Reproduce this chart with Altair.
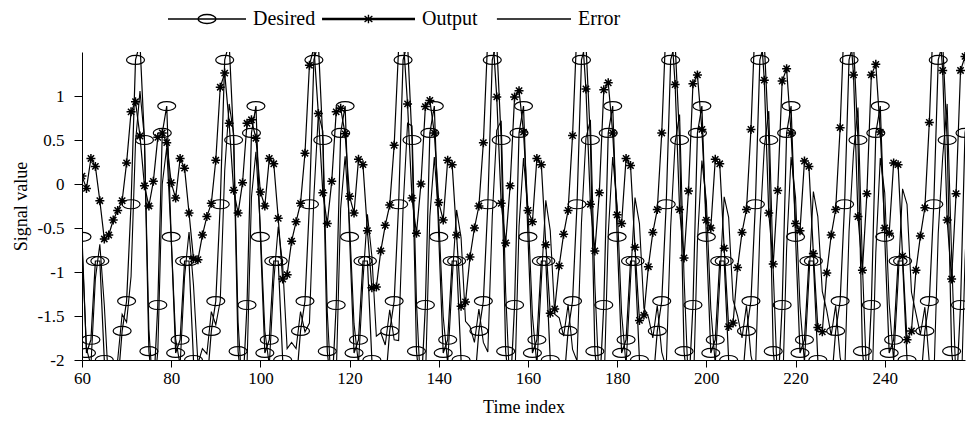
import altair as alt
import pandas as pd

# Sample index (one sample beyond each edge so the traces run off the axes)
TIME = list(range(59, 260))

# Reference (desired) signal, one row per 20-sample cycle
DESIRED = (
    [0.886]
    + [-0.6, -1.92, -1.77, -0.875, -0.875, -2.0, -2.9, -2.45, -2.3, -1.67, -1.33, -0.23, 1.41, 1.6, 0.5, -1.9, -2.4, -1.375, 0.58, 0.886]
    + [-0.6, -1.92, -1.77, -0.875, -0.875, -2.0, -2.9, -2.45, -2.3, -1.67, -1.33, -0.23, 1.41, 1.6, 0.5, -1.9, -2.4, -1.375, 0.58, 0.886]
    + [-0.6, -1.92, -1.77, -0.875, -0.875, -2.0, -2.9, -2.45, -2.3, -1.67, -1.33, -0.23, 1.41, 1.6, 0.5, -1.9, -2.4, -1.375, 0.58, 0.886]
    + [-0.6, -1.92, -1.77, -0.875, -0.875, -2.0, -2.9, -2.45, -2.3, -1.67, -1.33, -0.23, 1.41, 1.6, 0.5, -1.9, -2.4, -1.375, 0.58, 0.886]
    + [-0.6, -1.92, -1.77, -0.875, -0.875, -2.0, -2.9, -2.45, -2.3, -1.67, -1.33, -0.23, 1.41, 1.6, 0.5, -1.9, -2.4, -1.375, 0.58, 0.886]
    + [-0.6, -1.92, -1.77, -0.875, -0.875, -2.0, -2.9, -2.45, -2.3, -1.67, -1.33, -0.23, 1.41, 1.6, 0.5, -1.9, -2.4, -1.375, 0.58, 0.886]
    + [-0.6, -1.92, -1.77, -0.875, -0.875, -2.0, -2.9, -2.45, -2.3, -1.67, -1.33, -0.23, 1.41, 1.6, 0.5, -1.9, -2.4, -1.375, 0.58, 0.886]
    + [-0.6, -1.92, -1.77, -0.875, -0.875, -2.0, -2.9, -2.45, -2.3, -1.67, -1.33, -0.23, 1.41, 1.6, 0.5, -1.9, -2.4, -1.375, 0.58, 0.886]
    + [-0.6, -1.92, -1.77, -0.875, -0.875, -2.0, -2.9, -2.45, -2.3, -1.67, -1.33, -0.23, 1.41, 1.6, 0.5, -1.9, -2.4, -1.375, 0.58, 0.886]
    + [-0.6, -1.92, -1.77, -0.875, -0.875, -2.0, -2.9, -2.45, -2.3, -1.67, -1.33, -0.23, 1.41, 1.6, 0.5, -1.9, -2.4, -1.375, 0.58, 0.886]
)

# Network output
OUTPUT = (
    [0.45]
    + [0.09, -0.05, 0.29, 0.20, -0.19, -0.625, -0.58, -0.41, -0.30, -0.19, 0.24, 0.82, 0.935, 0.545, -0.02, -0.25, 0.03, 0.53, 0.58, 0.47]
    + [0.015, -0.16, 0.29, 0.18, -0.33, -0.85, -0.86, -0.58, -0.37, -0.22, 0.27, 1.10, 1.26, 0.69, -0.07, -0.33, 0.015, 0.69, 0.73, 0.52]
    + [-0.09, -0.25, 0.29, 0.23, -0.39, -1.08, -1.03, -0.65, -0.43, -0.22, 0.35, 1.35, 1.55, 0.80, -0.10, -0.45, 0.03, 0.82, 0.86, 0.57]
    + [-0.14, -0.33, 0.28, 0.22, -0.53, -1.18, -1.17, -0.76, -0.47, -0.24, 0.44, 1.55, 1.68, 0.91, -0.16, -0.56, 0.0, 0.88, 0.95, 0.58]
    + [-0.21, -0.41, 0.27, 0.22, -0.58, -1.39, -1.34, -0.83, -0.50, -0.25, 0.47, 1.68, 1.78, 0.99, -0.22, -0.67, -0.02, 0.99, 1.06, 0.59]
    + [-0.30, -0.43, 0.29, 0.22, -0.69, -1.47, -1.42, -0.93, -0.57, -0.30, 0.55, 1.78, 1.85, 1.08, -0.23, -0.76, -0.10, 1.07, 1.15, 0.58]
    + [-0.35, -0.45, 0.29, 0.21, -0.72, -1.55, -1.49, -0.94, -0.55, -0.29, 0.58, 1.86, 1.90, 1.13, -0.29, -0.84, -0.08, 1.14, 1.24, 0.62]
    + [-0.41, -0.50, 0.28, 0.23, -0.73, -1.62, -1.58, -0.95, -0.55, -0.29, 0.62, 1.93, 1.93, 1.18, -0.33, -0.91, -0.075, 1.17, 1.31, 0.58]
    + [-0.45, -0.53, 0.26, 0.20, -0.79, -1.63, -1.68, -1.01, -0.58, -0.29, 0.64, 1.98, 1.95, 1.24, -0.37, -0.98, -0.11, 1.24, 1.36, 0.59]
    + [-0.50, -0.56, 0.24, 0.22, -0.82, -1.77, -1.67, -0.98, -0.59, -0.27, 0.70, 2.02, 1.97, 1.29, -0.41, -1.08, -0.11, 1.29, 1.45, 0.60]
)

# Tracking error: desired minus output
ERROR = [round(d - o, 3) for d, o in zip(DESIRED, OUTPUT)]

SERIES = ["Desired", "Output", "Error"]
X_TICKS = [60, 80, 100, 120, 140, 160, 180, 200, 220, 240]
Y_TICKS = [-2, -1.5, -1, -0.5, 0, 0.5, 1]

FONT = "Liberation Serif"

# Marker glyphs (unit paths, scaled by symbol size)
ELLIPSE = ("M -1 0 C -1 -0.276 -0.552 -0.5 0 -0.5 C 0.552 -0.5 1 -0.276 1 0 "
           "C 1 0.276 0.552 0.5 0 0.5 C -0.552 0.5 -1 0.276 -1 0 Z")
STAR = "M -1 0 L 1 0 M 0 -1 L 0 1 M -0.7 -0.7 L 0.7 0.7 M -0.7 0.7 L 0.7 -0.7"

# Legend glyphs: a line segment with the series marker on it
LEG_DESIRED = ("M -3 0 L 3 0 M -0.69 0 C -0.69 -0.19 -0.38 -0.35 0 -0.35 "
               "C 0.38 -0.35 0.69 -0.19 0.69 0 C 0.69 0.19 0.38 0.35 0 0.35 "
               "C -0.38 0.35 -0.69 0.19 -0.69 0 Z")
# the Output sample line is drawn heavier (two close strokes)
LEG_OUTPUT = ("M -4.15 -0.04 L 3 -0.04 M -4.15 0.04 L 3 0.04 "
              "M -0.58 -0.33 L -0.58 0.33 M -0.88 -0.23 L -0.28 0.23 "
              "M -0.88 0.23 L -0.28 -0.23 M -0.91 0 L -0.25 0")
LEG_ERROR = "M -3.7 0 M -2.7 0 L 3 0"

frame = pd.DataFrame({"t": TIME, "desired": DESIRED, "output": OUTPUT, "error": ERROR})

x_enc = alt.X(
    "t:Q",
    scale=alt.Scale(domain=[60, 258], nice=False, zero=False),
    axis=alt.Axis(
        values=X_TICKS, title="Time index", grid=False,
        labelFont=FONT, labelFontSize=17, labelColor="black", labelPadding=3,
        labelFlush=False, labelOverlap=False,
        titleFont=FONT, titleFontSize=18, titleFontWeight="normal", titleColor="black",
        titlePadding=12, tickSize=7, tickColor="black", domainColor="black",
    ),
)
y_scale = alt.Scale(domain=[-2, 1.5], nice=False, zero=False)
y_axis = alt.Axis(
    values=Y_TICKS, title="Signal value", grid=False, labelExpr="datum.value + ''",
    labelFont=FONT, labelFontSize=17, labelColor="black", labelPadding=10,
    labelFlush=False, labelOverlap=False,
    titleFont=FONT, titleFontSize=18, titleFontWeight="normal", titleColor="black",
    titlePadding=7, tickSize=8, tickColor="black", domainColor="black",
)

base = alt.Chart(frame)
# markers are only drawn for samples inside the time window
in_window = "datum.t >= 60 && datum.t <= 258"

desired_line = base.mark_line(color="black", strokeWidth=1.2, clip=True).encode(
    x=x_enc, y=alt.Y("desired:Q", scale=y_scale, axis=y_axis)
)
desired_pts = base.transform_filter(in_window).mark_point(
    shape=ELLIPSE, size=324, filled=False, color="black", strokeWidth=1.2, opacity=1, clip=True
).encode(x="t:Q", y=alt.Y("desired:Q", scale=y_scale))
output_line = base.mark_line(color="black", strokeWidth=1.2, clip=True).encode(
    x="t:Q", y=alt.Y("output:Q", scale=y_scale)
)
output_pts = base.transform_filter(in_window).mark_point(
    shape=STAR, size=81, filled=False, color="black", strokeWidth=1.5, opacity=1, clip=True
).encode(x="t:Q", y=alt.Y("output:Q", scale=y_scale))
error_line = base.mark_line(color="black", strokeWidth=1.1, clip=True).encode(
    x="t:Q", y=alt.Y("error:Q", scale=y_scale)
)

legend_layer = alt.Chart(pd.DataFrame({"series": SERIES})).mark_point(
    opacity=0, filled=False, color="black"
).encode(
    shape=alt.Shape(
        "series:N",
        scale=alt.Scale(domain=SERIES, range=[LEG_DESIRED, LEG_OUTPUT, LEG_ERROR]),
        legend=alt.Legend(
            title=None, orient="none", legendX=111, legendY=-47, direction="horizontal",
            symbolSize=676, symbolStrokeWidth=1.4, symbolStrokeColor="black",
            symbolFillColor="transparent", symbolOpacity=1,
            labelFont=FONT, labelFontSize=20, labelColor="black",
            labelOffset=32, columnPadding=3, padding=0,
        ),
    )
)

chart = (
    alt.layer(desired_line, desired_pts, output_line, output_pts, error_line, legend_layer)
    .properties(
        width=883, height=308, autosize="none",
        padding={"left": 82, "top": 52, "right": 1, "bottom": 66},
        background="white",
    )
    .configure_view(stroke=None)
)

chart.save("out.html", embed_options={"renderer": "svg", "actions": False})
